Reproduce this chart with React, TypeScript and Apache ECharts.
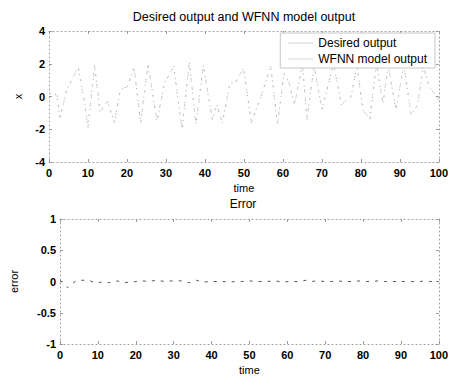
import React, { useEffect, useRef } from "react";
import * as echarts from "echarts";

const FONT = "'Liberation Sans', Arial, sans-serif";

const timePoints = [0, 2, 2.8, 4.5, 7.5, 9.2, 10, 11.7, 13.1, 15, 16.8, 18.3, 20.1, 21.8, 23.5, 25.4, 27.7, 29.6, 32, 34.1, 36, 37.7, 39.6, 41.9, 43, 44.5, 46.4, 48, 49.9, 51.9, 54.5, 56.9, 58.6, 60.3, 61.5, 63, 65, 66.2, 68, 70, 71.6, 73, 75, 77.5, 79, 80.5, 82.3, 84, 85.7, 87, 89, 91, 92.9, 94.6, 96, 97.5, 100];

const desiredOutput = [0.2, 0.1, -1.4, 0.4, 1.8, -0.5, -1.9, 1.9, -0.95, -0.3, -1.6, 0.4, 0.6, 1.8, -1.6, 2.0, -1.5, 0.8, 1.85, -2.0, 2.1, -1.7, 1.9, -1.4, -0.5, -1.6, 0.8, 0.9, 1.75, -1.6, 0.1, 1.85, -1.7, 1.4, 0.9, -0.5, 2.0, -1.4, 1.9, -0.8, 0.7, 2.0, -0.5, 0.0, 1.9, -0.8, -1.4, 2.0, -0.4, 1.9, -0.8, 1.9, -1.1, -0.5, 1.9, 0.6, -0.2];

const modelOutput = [0.18, 0.2, -1.35, 0.38, 1.78, -0.48, -1.88, 1.9, -0.93, -0.31, -1.58, 0.41, 0.6, 1.79, -1.6, 1.98, -1.5, 0.79, 1.84, -1.98, 2.08, -1.69, 1.9, -1.4, -0.5, -1.59, 0.8, 0.9, 1.74, -1.6, 0.1, 1.84, -1.69, 1.4, 0.9, -0.5, 1.98, -1.4, 1.89, -0.8, 0.7, 1.99, -0.5, 0.0, 1.89, -0.8, -1.4, 1.99, -0.4, 1.9, -0.8, 1.9, -1.1, -0.49, 1.89, 0.6, -0.2];

const errorValues = [0.02, -0.1, -0.05, 0.02, 0.02, -0.02, -0.02, 0, -0.02, 0.01, -0.02, -0.01, 0, 0.01, 0, 0.02, 0, 0.01, 0.01, -0.02, 0.02, -0.01, 0, 0, 0, -0.01, 0, 0, 0.01, 0, 0, 0.01, -0.01, 0, 0, 0, 0.02, 0, 0.01, 0, 0, 0.01, 0, 0, 0.01, 0, 0, 0.01, 0, 0, 0, 0, 0, -0.01, 0.01, 0, 0];

const seriesNames = ["Desired output", "WFNN model output"];
const titles = ["Desired output and WFNN model output", "Error"];
const axisNames = { x: "time", yTop: "x", yBottom: "error" };

const pair = (t: number[], v: number[]) => t.map((x, i) => [x, v[i]]);

const axisLineStyle = { color: "#9a9a9a", width: 1, type: [1, 3] as any };
const tickStyle = { show: true, inside: true, length: 3, lineStyle: { color: "#9a9a9a", width: 1 } };
const labelStyle = { color: "#000", fontSize: 11, fontWeight: "bold" as const, fontFamily: FONT };
const nameStyle = { color: "#000", fontSize: 11, fontFamily: FONT };

function xAxes(gridIndex: number) {
  return [
    {
      type: "value", gridIndex, min: 0, max: 100, interval: 10, position: "bottom",
      axisLine: { show: true, onZero: false, lineStyle: axisLineStyle },
      axisTick: tickStyle,
      axisLabel: { ...labelStyle, margin: 5 },
      splitLine: { show: false },
      name: axisNames.x, nameLocation: "middle", nameGap: 20, nameTextStyle: nameStyle,
    },
    {
      type: "value", gridIndex, min: 0, max: 100, interval: 10, position: "top",
      axisLine: { show: true, onZero: false, lineStyle: axisLineStyle },
      axisTick: tickStyle,
      axisLabel: { show: false },
      splitLine: { show: false },
    },
  ];
}

function yAxes(gridIndex: number, min: number, max: number, interval: number, name: string, nameGap: number) {
  return [
    {
      type: "value", gridIndex, min, max, interval, position: "left",
      axisLine: { show: true, onZero: false, lineStyle: axisLineStyle },
      axisTick: tickStyle,
      axisLabel: { ...labelStyle, margin: 4 },
      splitLine: { show: false },
      name, nameLocation: "middle", nameGap, nameTextStyle: nameStyle,
    },
    {
      type: "value", gridIndex, min, max, interval, position: "right",
      axisLine: { show: true, onZero: false, lineStyle: axisLineStyle },
      axisTick: tickStyle,
      axisLabel: { show: false },
      splitLine: { show: false },
    },
  ];
}

export default function App() {
  const ref = useRef<HTMLDivElement>(null);
  useEffect(() => {
    if (!ref.current) return;
    const chart = echarts.init(ref.current, null, { renderer: "svg" });
    chart.setOption({
      animation: false,
      backgroundColor: "#fff",
      textStyle: { fontFamily: FONT },
      title: [
        { text: titles[0], left: 244, top: 10, textAlign: "center", padding: 0, textStyle: { fontSize: 12.5, fontWeight: "normal", color: "#000", fontFamily: FONT } },
        { text: titles[1], left: 243, top: 198, textAlign: "center", padding: 0, textStyle: { fontSize: 12, fontWeight: "normal", color: "#000", fontFamily: FONT } },
      ],
      legend: {
        data: seriesNames,
        orient: "vertical",
        right: 16,
        top: 33,
        padding: [4, 8, 3, 8],
        itemGap: 4,
        itemWidth: 25,
        itemHeight: 14,
        icon: "path://M0,0 L25,0 L25,1 L0,1 Z",
        backgroundColor: "#fff",
        borderColor: "#c8c8c8",
        borderWidth: 1,
        textStyle: { fontSize: 12, color: "#000", fontFamily: FONT },
      },
      grid: [
        { left: 49, right: 8, top: 31, height: 131 },
        { left: 49, right: 8, top: 219, height: 128 },
      ],
      xAxis: [...xAxes(0), ...xAxes(1)],
      yAxis: [...yAxes(0, -4, 4, 2, axisNames.yTop, 26), ...yAxes(1, -1, 1, 0.5, axisNames.yBottom, 41)],
      series: [
        {
          name: seriesNames[0], type: "line", xAxisIndex: 0, yAxisIndex: 0,
          data: pair(timePoints, desiredOutput), symbol: "none",
          lineStyle: { color: "#a8a8a8", width: 1, type: [1, 5] },
          itemStyle: { color: "#d0d0d0" },
        },
        {
          name: seriesNames[1], type: "line", xAxisIndex: 0, yAxisIndex: 0,
          data: pair(timePoints, modelOutput), symbol: "none",
          lineStyle: { color: "#c2c2c2", width: 1, type: [2, 8] },
          itemStyle: { color: "#d8d8d8" },
        },
        {
          name: "error", type: "line", xAxisIndex: 2, yAxisIndex: 2,
          data: pair(timePoints, errorValues), symbol: "none",
          lineStyle: { color: "#555", width: 1, type: [3, 6] },
          itemStyle: { color: "#555" },
        },
      ],
    });
    return () => chart.dispose();
  }, []);
  return <div ref={ref} style={{ position: "fixed", left: 0, top: 0, width: 451, height: 376 }} />;
}
